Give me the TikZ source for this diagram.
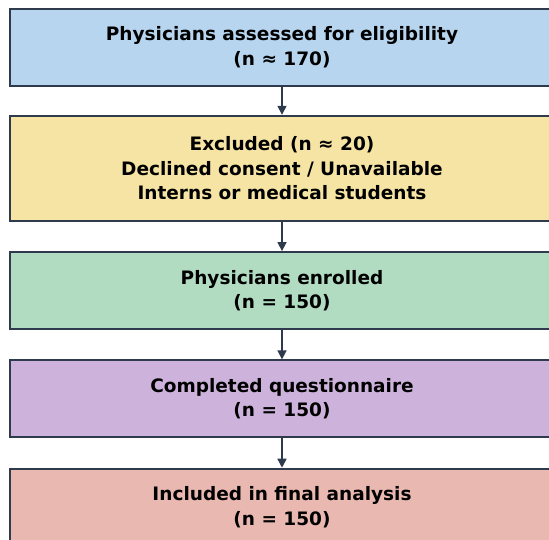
\documentclass[tikz,border=0pt]{standalone}
\usepackage{fontspec}
\setmainfont{DejaVu Sans}
\usetikzlibrary{positioning,arrows.meta}
\definecolor{screencol}{HTML}{B7D5EE}
\definecolor{excludecol}{HTML}{F6E4A4}
\definecolor{enrolcol}{HTML}{B1DCC2}
\definecolor{surveycol}{HTML}{CDB3DB}
\definecolor{analysiscol}{HTML}{E9B8B0}
\definecolor{edgecol}{HTML}{2F3B4C}

\begin{document}
\begin{tikzpicture}[
  x=1pt, y=1pt,
  font=\fontsize{18.5}{24.5}\selectfont\bfseries,
  node distance=29.5pt,
  stage/.style={
    draw=edgecol, line width=1.8pt,
    minimum width=544pt, minimum height=77pt, align=center,
  },
  arrow/.style={-{Triangle[length=9pt, width=9pt]}, line width=1.5pt, draw=edgecol}
]
\useasboundingbox (0,0) rectangle (549,-540);

% Flow of participants, top to bottom
\node[stage, fill=screencol, anchor=north] (assessed) at (282,-8)
  {Physicians assessed for eligibility\\(n ≈ 170)};
\node[stage, fill=excludecol, minimum height=105pt, below=28pt of assessed] (excluded)
  {Excluded (n ≈ 20)\\Declined consent / Unavailable\\Interns or medical students};
\node[stage, fill=enrolcol, below=of excluded] (enrolled)
  {Physicians enrolled\\(n = 150)};
\node[stage, fill=surveycol, below=of enrolled] (completed)
  {Completed questionnaire\\(n = 150)};
\node[stage, fill=analysiscol, below=of completed] (analysed)
  {Included in final analysis\\(n = 150)};

% Connectors
\draw[arrow] (assessed) -- (excluded);
\draw[arrow] (excluded) -- (enrolled);
\draw[arrow] (enrolled) -- (completed);
\draw[arrow] (completed) -- (analysed);

\end{tikzpicture}
\end{document}
